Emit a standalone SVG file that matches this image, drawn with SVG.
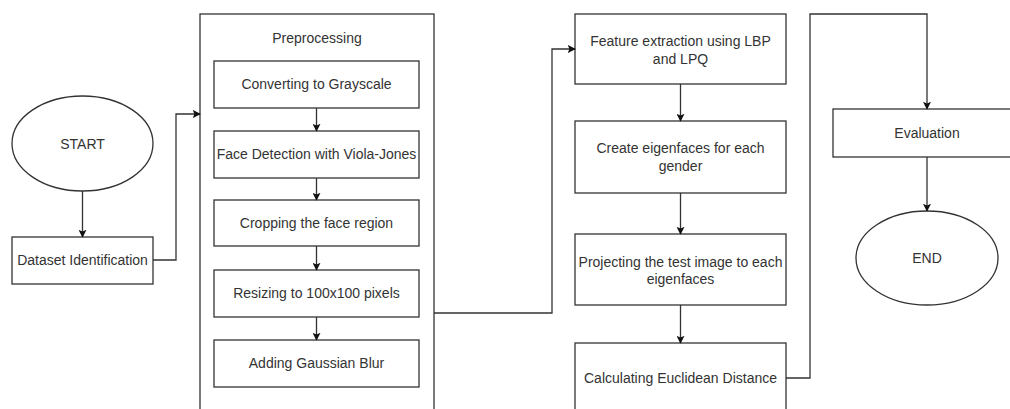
<svg xmlns="http://www.w3.org/2000/svg" width="1010" height="409" viewBox="0 0 1010 409">
<defs>
<style>
.s{fill:#fff;stroke:#333;stroke-width:1.3}
.c{fill:none;stroke:#333;stroke-width:1.3}
text{font-family:"Liberation Sans",Arial,sans-serif;font-size:14px;fill:#333;text-anchor:middle}
</style>
<marker id="a" viewBox="0 0 10 10" refX="9" refY="5" markerWidth="8" markerHeight="8" markerUnits="userSpaceOnUse" orient="auto">
<path d="M0,0 L10,5 L0,10 L2,5 Z" fill="#111"/>
</marker>
</defs>
<rect width="1010" height="409" fill="#fff"/>
<g id="preprocessing"><rect class="s" x="200" y="14" width="234" height="410"/><text x="317" y="43">Preprocessing</text></g>
<g id="start"><ellipse class="s" cx="82.5" cy="143.5" rx="70.5" ry="47.5"/><text x="82.5" y="148.5">START</text></g>
<g id="dataset"><rect class="s" x="12" y="237" width="141" height="47"/><text x="82.5" y="265">Dataset Identification</text></g>
<g id="gray"><rect class="s" x="214" y="61" width="205" height="47"/><text x="316.5" y="89">Converting to Grayscale</text></g>
<g id="face"><rect class="s" x="214" y="131" width="205" height="47"/><text x="316.5" y="159">Face Detection with Viola-Jones</text></g>
<g id="crop"><rect class="s" x="214" y="200" width="205" height="46"/><text x="316.5" y="228">Cropping the face region</text></g>
<g id="resize"><rect class="s" x="214" y="270" width="205" height="47"/><text x="316.5" y="298">Resizing to 100x100 pixels</text></g>
<g id="blur"><rect class="s" x="214" y="340" width="205" height="47"/><text x="316.5" y="368">Adding Gaussian Blur</text></g>
<g id="feature"><rect class="s" x="575" y="14" width="211" height="70"/><text x="680.5" y="46">Feature extraction using LBP</text><text x="680.5" y="64">and LPQ</text></g>
<g id="eigen"><rect class="s" x="575" y="121" width="211" height="72"/><text x="680.5" y="153">Create eigenfaces for each</text><text x="680.5" y="171">gender</text></g>
<g id="project"><rect class="s" x="575" y="234" width="211" height="71"/><text x="680.5" y="267">Projecting the test image to each</text><text x="680.5" y="284">eigenfaces</text></g>
<g id="euclid"><rect class="s" x="575" y="343" width="211" height="80"/><text x="680.5" y="383">Calculating Euclidean Distance</text></g>
<g id="eval"><rect class="s" x="833" y="109" width="180" height="48"/><text x="927" y="138">Evaluation</text></g>
<g id="end"><ellipse class="s" cx="927" cy="258" rx="71" ry="47"/><text x="927" y="263">END</text></g>
<g id="connectors" class="c">
<path class="c" d="M82.5,191 V237" marker-end="url(#a)"/>
<path class="c" d="M153,260 H176 V114 H200" marker-end="url(#a)"/>
<path class="c" d="M316.5,108 V131" marker-end="url(#a)"/>
<path class="c" d="M316.5,178 V200" marker-end="url(#a)"/>
<path class="c" d="M316.5,246 V270" marker-end="url(#a)"/>
<path class="c" d="M316.5,317 V340" marker-end="url(#a)"/>
<path class="c" d="M434,313 H552 V49 H575" marker-end="url(#a)"/>
<path class="c" d="M680.5,84 V121" marker-end="url(#a)"/>
<path class="c" d="M680.5,193 V234" marker-end="url(#a)"/>
<path class="c" d="M680.5,305 V343" marker-end="url(#a)"/>
<path class="c" d="M786,378 H810 V14 H927 V109" marker-end="url(#a)"/>
<path class="c" d="M927,157 V211" marker-end="url(#a)"/>
</g>
</svg>
